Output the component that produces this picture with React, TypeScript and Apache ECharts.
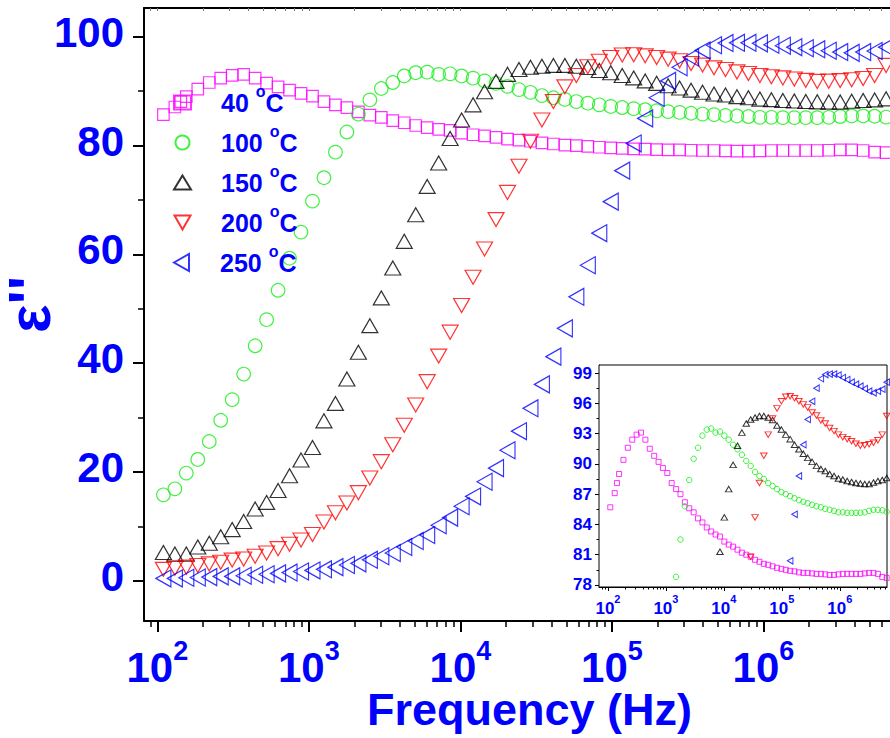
import React, { useEffect, useRef } from 'react';
import * as echarts from 'echarts';

// Frequencies (Hz) shared by all temperature curves
const frequency = [109.7, 130.6, 155.4, 185.0, 220.2, 262.1, 312.0, 371.5, 442.2, 526.4,
  626.6, 745.9, 887.9, 1057, 1258, 1498, 1783, 2123, 2527, 3008,
  3580, 4262, 5073, 6039, 7189, 8557, 10188, 12129, 14438, 17188,
  20460, 24357, 28995, 34518, 41092, 48917, 58233, 69323, 82526, 98242,
  116950, 139220, 165740, 197310, 234880, 279610, 332850, 396240, 471700, 561520,
  668440, 795740, 947280, 1127700, 1342400, 1598000, 1902400, 2264600, 2695900, 3209300,
  3820400, 4548000, 5414000, 6445100];

const temperatures = ['40', '100', '150', '200', '250'];

const eps40 = [85.7, 87.1, 89.0, 90.4, 91.6, 92.4, 92.9, 93.1, 92.4, 91.5,
  90.8, 90.2, 89.6, 89.1, 88.1, 87.5, 87.0, 86.2, 85.6, 85.2,
  84.6, 84.2, 83.7, 83.3, 83.0, 82.8, 82.3, 82.0, 81.8, 81.5,
  81.2, 81.0, 80.8, 80.5, 80.3, 80.1, 80.0, 79.85, 79.7, 79.6,
  79.5, 79.4, 79.35, 79.25, 79.2, 79.2, 79.15, 79.1, 79.1, 79.05,
  79.0, 79.0, 79.05, 79.1, 79.1, 79.1, 79.1, 79.1, 79.15, 79.2,
  79.2, 79.1, 78.8, 78.7];
const extraFreq40 = [143];
const extraEps40 = [88.1];

const eps100 = [15.8, 16.9, 19.8, 22.3, 25.6, 29.5, 33.3, 38.0, 43.2, 48.0,
  53.4, 59.3, 64.1, 69.8, 74.1, 78.8, 82.5, 85.8, 88.4, 90.5,
  91.6, 92.8, 93.4, 93.5, 93.1, 93.2, 92.8, 92.4, 91.9, 91.45,
  90.9, 90.3, 89.8, 89.2, 88.8, 88.5, 88.1, 87.8, 87.5, 87.2,
  87.0, 86.8, 86.6, 86.4, 86.25, 86.1, 85.95, 85.8, 85.7, 85.55,
  85.45, 85.35, 85.2, 85.2, 85.15, 85.15, 85.15, 85.15, 85.2, 85.35,
  85.45, 85.45, 85.4, 85.25];

const eps150 = [5.2, 4.9, 4.9, 6.2, 6.9, 8.1, 9.4, 10.9, 13.2, 14.4,
  16.6, 19.3, 22.2, 24.5, 29.4, 32.6, 37.1, 42.0, 46.9, 52.0,
  57.5, 62.4, 67.3, 72.5, 76.8, 81.3, 84.7, 87.5, 89.9, 91.8,
  93.1, 94.0, 94.4, 94.6, 94.75, 94.75, 94.6, 94.35, 93.8, 93.4,
  92.9, 92.45, 91.9, 91.45, 91.0, 90.6, 90.2, 89.8, 89.5, 89.3,
  89.0, 88.8, 88.55, 88.45, 88.3, 88.2, 88.1, 88.05, 88.0, 88.0,
  88.15, 88.3, 88.4, 88.6];

const eps200 = [2.1, 2.3, 2.5, 2.8, 3.1, 3.4, 3.8, 4.0, 4.5, 5.1,
  5.9, 6.7, 7.5, 8.5, 10.8, 12.5, 14.3, 16.2, 18.9, 21.9,
  25.0, 28.6, 32.3, 36.6, 41.3, 45.7, 50.6, 55.8, 61.0, 66.4,
  71.4, 76.2, 80.8, 84.7, 88.1, 90.8, 92.9, 94.5, 95.5, 96.2,
  96.65, 96.7, 96.5, 96.2, 95.9, 95.6, 95.1, 94.8, 94.3, 94.0,
  93.55, 93.25, 92.9, 92.65, 92.45, 92.25, 92.0, 91.8, 91.85, 91.95,
  92.1, 92.35, 92.9, 94.75];

const eps250 = [0.43, 0.43, 0.55, 0.6, 0.67, 0.8, 0.8, 0.92, 1.1, 1.2,
  1.35, 1.5, 1.7, 1.9, 2.1, 2.5, 2.9, 3.2, 3.85, 4.5,
  5.1, 6.2, 7.3, 8.4, 10.2, 11.6, 13.7, 15.5, 18.2, 20.7,
  24.0, 27.5, 31.7, 36.1, 41.2, 46.4, 52.2, 58.0, 63.9, 69.7,
  75.4, 80.4, 85.0, 88.8, 91.9, 94.4, 96.2, 97.5, 98.45, 98.85,
  98.9, 98.9, 98.8, 98.55, 98.35, 98.1, 97.9, 97.7, 97.45, 97.2,
  97.05, 97.2, 97.4, 98.1];

// Tick values
const decadeTicks = [1e2, 1e3, 1e4, 1e5, 1e6];
const logMinorTicks = [90,
  200, 300, 400, 500, 600, 700, 800, 900,
  2e3, 3e3, 4e3, 5e3, 6e3, 7e3, 8e3, 9e3,
  2e4, 3e4, 4e4, 5e4, 6e4, 7e4, 8e4, 9e4,
  2e5, 3e5, 4e5, 5e5, 6e5, 7e5, 8e5, 9e5,
  2e6, 3e6, 4e6, 5e6, 6e6, 7e6, 8e6, 9e6];
const insetLogMinorTicks = [80, 90,
  200, 300, 400, 500, 600, 700, 800, 900,
  2e3, 3e3, 4e3, 5e3, 6e3, 7e3, 8e3, 9e3,
  2e4, 3e4, 4e4, 5e4, 6e4, 7e4, 8e4, 9e4,
  2e5, 3e5, 4e5, 5e5, 6e5, 7e5, 8e5, 9e5,
  2e6, 3e6, 4e6, 5e6, 6e6];
const mainYTicks = [0, 20, 40, 60, 80, 100];
const mainYMinorTicks = [10, 30, 50, 70, 90];
const insetYTicks = [78, 81, 84, 87, 90, 93, 96, 99];
const insetYMinorTicks = [79.5, 82.5, 85.5, 88.5, 91.5, 94.5, 97.5];

const BLUE = '#0000FF';
const FONT = '"Liberation Sans", Arial, sans-serif';

const DOWN_TRI = 'path://M0,0L16,0L8,14Z';
const LEFT_TRI = 'path://M0,8.5L15,0L15,17Z';

const styles = [
  { color: '#FF00FF', symbol: 'rect', size: 11.5, insetSize: 5 },
  { color: '#11EE11', symbol: 'circle', size: 13.5, insetSize: 5.5 },
  { color: '#000000', symbol: 'triangle', size: [16, 14], insetSize: [6.5, 5.5] },
  { color: '#FF0000', symbol: DOWN_TRI, size: [16, 14], insetSize: [6.5, 5.5] },
  { color: '#0000FF', symbol: LEFT_TRI, size: [15, 17], insetSize: [5.5, 6.5] },
];

const seriesValues = [eps40, eps100, eps150, eps200, eps250];

function buildData(idx: number) {
  const pts: number[][] = frequency.map((f, i) => [f, seriesValues[idx][i]]);
  if (idx === 0) {
    extraFreq40.forEach((f, i) => pts.push([f, extraEps40[i]]));
  }
  return pts;
}

const supFmt = (v: number) => `10{sup|${Math.round(Math.log10(v))}}`;

const legendRich = {
  sp: { width: 25 },
  t: { fontSize: 25, fontWeight: 'bold', color: BLUE, lineHeight: 39, fontFamily: FONT },
  o: { fontSize: 16, fontWeight: 'bold', color: BLUE, verticalAlign: 'top', fontFamily: FONT },
};
const legendFmt = (name: string) => `{sp|}{t|${name} }{o|o}{t|C}`;

export default function App() {
  const ref = useRef<HTMLDivElement>(null);
  useEffect(() => {
    if (!ref.current) return;
    document.body.style.margin = '0';
    const chart = echarts.init(ref.current, null, { renderer: 'svg' });
    const mainMin = 81.7;
    const mainMax = 1e7;
    const insetMin = 70;
    const insetMax = 6.53e6;

    const series: any[] = [];
    temperatures.forEach((t, idx) => {
      const s = styles[idx];
      series.push({
        name: t,
        type: 'scatter',
        xAxisIndex: 0,
        yAxisIndex: 0,
        data: buildData(idx),
        symbol: s.symbol,
        symbolSize: s.size,
        itemStyle: { color: 'rgba(0,0,0,0)', borderColor: s.color, borderWidth: 1.2 },
        emphasis: { disabled: true },
        silent: true,
        z: 2 + idx,
      });
    });
    temperatures.forEach((t, idx) => {
      const s = styles[idx];
      series.push({
        name: t,
        type: 'scatter',
        xAxisIndex: 3,
        yAxisIndex: 2,
        data: buildData(idx),
        symbol: s.symbol,
        symbolSize: s.insetSize,
        itemStyle: { color: 'rgba(0,0,0,0)', borderColor: s.color, borderWidth: 1 },
        emphasis: { disabled: true },
        silent: true,
        z: 12 + idx,
      });
    });

    const noSplit = { show: false };
    const legendBase = {
      orient: 'vertical',
      left: 173,
      padding: 0,
      itemWidth: 17,
      itemGap: 8,
      selectedMode: false,
      formatter: legendFmt,
      textStyle: { color: BLUE, rich: legendRich },
    };

    const option: any = {
      animation: false,
      backgroundColor: '#fff',
      textStyle: { fontFamily: FONT, fontWeight: 'bold' },
      legend: [
        { ...legendBase, top: 83, itemHeight: 14, data: temperatures.slice(0, 4) },
        { ...legendBase, top: 243, itemHeight: 17, data: temperatures.slice(4) },
      ],
      grid: [
        { left: 144, top: 8, width: 771, height: 613, show: false, outerBoundsMode: 'none', containLabel: false },
        { left: 599, top: 365, width: 288, height: 222, show: true, backgroundColor: '#fff', borderColor: '#000', borderWidth: 1, outerBoundsMode: 'none', containLabel: false, z: 10 },
      ],
      xAxis: [
        {
          gridIndex: 0, type: 'log', logBase: 10, min: mainMin, max: mainMax, position: 'bottom',
          axisLine: { show: true, onZero: false, lineStyle: { color: '#000', width: 2 } },
          axisTick: { show: true, customValues: decadeTicks, length: 11, lineStyle: { color: '#000', width: 2 } },
          axisLabel: {
            show: true, customValues: decadeTicks, formatter: supFmt, margin: 16.5,
            fontSize: 42, fontWeight: 'bold', color: BLUE, fontFamily: FONT, lineHeight: 60,
            rich: { sup: { fontSize: 27, fontWeight: 'bold', color: BLUE, fontFamily: FONT, verticalAlign: 'top' } },
          },
          splitLine: noSplit, minorTick: { show: false },
          name: 'Frequency (Hz)', nameLocation: 'middle', nameGap: 66, nameMoveOverlap: false,
          nameTextStyle: { fontSize: 45, fontWeight: 'bold', color: BLUE, fontFamily: FONT },
        },
        {
          gridIndex: 0, type: 'log', logBase: 10, min: mainMin, max: mainMax, position: 'bottom',
          axisLine: { show: false, onZero: false },
          axisTick: { show: true, customValues: logMinorTicks, length: 6, lineStyle: { color: '#000', width: 1.5 } },
          axisLabel: { show: false }, splitLine: noSplit,
        },
        {
          gridIndex: 0, type: 'log', logBase: 10, min: mainMin, max: mainMax, position: 'top',
          axisLine: { show: true, onZero: false, lineStyle: { color: '#000', width: 2 } },
          axisTick: { show: true, inside: true, customValues: decadeTicks.concat(logMinorTicks), length: 3, lineStyle: { color: '#777', width: 1 } },
          axisLabel: { show: false }, splitLine: noSplit,
        },
        {
          gridIndex: 1, type: 'log', logBase: 10, min: insetMin, max: insetMax, position: 'bottom',
          axisLine: { show: true, onZero: false, lineStyle: { color: '#000', width: 1 } },
          axisTick: { show: true, customValues: decadeTicks, length: 4, lineStyle: { color: '#000', width: 1 } },
          axisLabel: {
            show: true, customValues: decadeTicks, formatter: supFmt, margin: 6.6,
            fontSize: 17, fontWeight: 'bold', color: BLUE, fontFamily: FONT, lineHeight: 29,
            rich: { sup: { fontSize: 11, fontWeight: 'bold', color: BLUE, fontFamily: FONT, verticalAlign: 'top' } },
          },
          splitLine: noSplit,
        },
        {
          gridIndex: 1, type: 'log', logBase: 10, min: insetMin, max: insetMax, position: 'bottom',
          axisLine: { show: false, onZero: false },
          axisTick: { show: true, customValues: insetLogMinorTicks, length: 2.5, lineStyle: { color: '#000', width: 1 } },
          axisLabel: { show: false }, splitLine: noSplit,
        },
      ],
      yAxis: [
        {
          gridIndex: 0, type: 'value', min: -7.4, max: 105.3, position: 'left',
          axisLine: { show: true, onZero: false, lineStyle: { color: '#000', width: 2 } },
          axisTick: { show: true, customValues: mainYTicks, length: 11, lineStyle: { color: '#000', width: 2 } },
          axisLabel: {
            show: true, customValues: mainYTicks, margin: 20,
            formatter: (v: number) => `{a|${v}}`,
            rich: { a: { fontSize: 42, fontWeight: 'bold', color: BLUE, fontFamily: FONT, padding: [0, 0, 9, 0] } },
          },
          splitLine: noSplit,
          name: "{e|ε''}", nameLocation: 'middle', nameGap: 87, nameMoveOverlap: false,
          nameTextStyle: {
            color: BLUE,
            rich: { e: { fontSize: 60, lineHeight: 56, fontWeight: 'bold', color: BLUE, fontFamily: FONT, padding: [0, 0, 0, 20] } },
          },
        },
        {
          gridIndex: 0, type: 'value', min: -7.4, max: 105.3, position: 'left',
          axisLine: { show: false, onZero: false },
          axisTick: { show: true, customValues: mainYMinorTicks, length: 6, lineStyle: { color: '#000', width: 1.5 } },
          axisLabel: { show: false }, splitLine: noSplit,
        },
        {
          gridIndex: 1, type: 'value', min: 77.8, max: 99.8, position: 'left',
          axisLine: { show: true, onZero: false, lineStyle: { color: '#000', width: 1 } },
          axisTick: { show: true, customValues: insetYTicks, length: 4, lineStyle: { color: '#000', width: 1 } },
          axisLabel: {
            show: true, customValues: insetYTicks, margin: 7,
            fontSize: 17, fontWeight: 'bold', color: BLUE, fontFamily: FONT,
          },
          splitLine: noSplit,
        },
        {
          gridIndex: 1, type: 'value', min: 77.8, max: 99.8, position: 'left',
          axisLine: { show: false, onZero: false },
          axisTick: { show: true, customValues: insetYMinorTicks, length: 2.5, lineStyle: { color: '#000', width: 1 } },
          axisLabel: { show: false }, splitLine: noSplit,
        },
      ],
      series,
    };
    chart.setOption(option);
    return () => chart.dispose();
  }, []);
  return <div ref={ref} style={{ width: 890, height: 738 }} />;
}
